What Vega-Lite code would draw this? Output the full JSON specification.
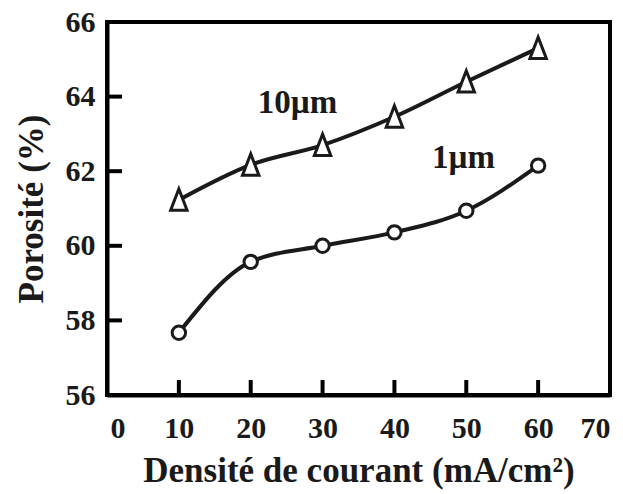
{
  "$schema": "https://vega.github.io/schema/vega-lite/v6.json",
  "width": 503,
  "height": 373,
  "autosize": {"type": "none"},
  "padding": {"left": 107, "top": 22, "right": 13, "bottom": 99},
  "background": "white",
  "config": {
    "view": {"stroke": "black", "strokeWidth": 4}
  },
  "datasets": {
    "points": [
      {"series": "1µm", "j": 10, "p": 57.67},
      {"series": "1µm", "j": 20, "p": 59.57},
      {"series": "1µm", "j": 30, "p": 60.0},
      {"series": "1µm", "j": 40, "p": 60.36},
      {"series": "1µm", "j": 50, "p": 60.94},
      {"series": "1µm", "j": 60, "p": 62.15},
      {"series": "10µm", "j": 10, "p": 61.23},
      {"series": "10µm", "j": 20, "p": 62.17},
      {"series": "10µm", "j": 30, "p": 62.7},
      {"series": "10µm", "j": 40, "p": 63.46},
      {"series": "10µm", "j": 50, "p": 64.4},
      {"series": "10µm", "j": 60, "p": 65.3}
    ],
    "labels": [
      {"text": "10µm", "j": 26.5, "p": 63.56},
      {"text": "1µm", "j": 49.6, "p": 62.09}
    ],
    "xticks": [{"j": 10}, {"j": 20}, {"j": 30}, {"j": 40}, {"j": 50}, {"j": 60}],
    "yticks": [{"p": 58}, {"p": 60}, {"p": 62}, {"p": 64}]
  },
  "layer": [
    {
      "data": {"name": "points"},
      "mark": {"type": "line", "interpolate": "monotone", "color": "#1a1a1a", "strokeWidth": 4},
      "encoding": {
        "x": {
          "field": "j", "type": "quantitative",
          "scale": {"domain": [0, 70], "nice": false, "zero": false},
          "axis": {
            "values": [0, 10, 20, 30, 40, 50, 60, 70],
            "title": "Densité de courant (mA/cm²)",
            "grid": false,
            "domainColor": "black",
            "domainWidth": 4,
            "tickOpacity": 0,
            "tickSize": -15,
            "labelFont": "Times New Roman",
            "labelFontWeight": "bold",
            "labelFontSize": 30,
            "labelColor": "#1a1a1a",
            "labelPadding": 33,
            "labelOffset": {"condition": {"test": "datum.value == 0", "value": 3}, "value": 0},
            "titleFont": "Times New Roman",
            "titleFontWeight": "bold",
            "titleFontSize": 35,
            "titleColor": "#1a1a1a",
            "titlePadding": 10
          }
        },
        "y": {
          "field": "p", "type": "quantitative",
          "scale": {"domain": [56, 66], "nice": false, "zero": false},
          "axis": {
            "values": [56, 58, 60, 62, 64, 66],
            "title": "Porosité (%)",
            "grid": false,
            "domainColor": "black",
            "domainWidth": 4,
            "tickOpacity": 0,
            "tickSize": -15,
            "labelFont": "Times New Roman",
            "labelFontWeight": "bold",
            "labelFontSize": 30,
            "labelColor": "#1a1a1a",
            "labelPadding": 27,
            "titleFont": "Times New Roman",
            "titleFontWeight": "bold",
            "titleFontSize": 35,
            "titleColor": "#1a1a1a",
            "titlePadding": 16
          }
        },
        "detail": {"field": "series"}
      }
    },
    {
      "data": {"name": "xticks"},
      "mark": {"type": "tick", "orient": "vertical", "color": "black", "size": 15, "thickness": 4, "yOffset": -7.5, "opacity": 1},
      "encoding": {
        "x": {"field": "j", "type": "quantitative"},
        "y": {"datum": 56, "type": "quantitative"}
      }
    },
    {
      "data": {"name": "yticks"},
      "mark": {"type": "tick", "orient": "horizontal", "color": "black", "size": 15, "thickness": 4, "xOffset": 7.5, "opacity": 1},
      "encoding": {
        "x": {"datum": 0, "type": "quantitative"},
        "y": {"field": "p", "type": "quantitative"}
      }
    },
    {
      "data": {"name": "points"},
      "mark": {"type": "point", "filled": false, "fill": "white", "fillOpacity": 1, "stroke": "#1a1a1a", "strokeWidth": 3, "opacity": 1},
      "encoding": {
        "x": {"field": "j", "type": "quantitative"},
        "y": {"field": "p", "type": "quantitative"},
        "shape": {
          "field": "series", "type": "nominal",
          "scale": {"domain": ["1µm", "10µm"], "range": ["circle", "M0,-1L0.75,0.95L-0.75,0.95Z"]},
          "legend": null
        },
        "size": {
          "field": "series", "type": "nominal",
          "scale": {"domain": ["1µm", "10µm"], "range": [180, 480]},
          "legend": null
        }
      }
    },
    {
      "data": {"name": "labels"},
      "mark": {"type": "text", "font": "Times New Roman", "fontWeight": "bold", "fontSize": 33, "align": "center", "baseline": "alphabetic", "color": "#1a1a1a"},
      "encoding": {
        "x": {"field": "j", "type": "quantitative"},
        "y": {"field": "p", "type": "quantitative"},
        "text": {"field": "text"}
      }
    }
  ]
}
